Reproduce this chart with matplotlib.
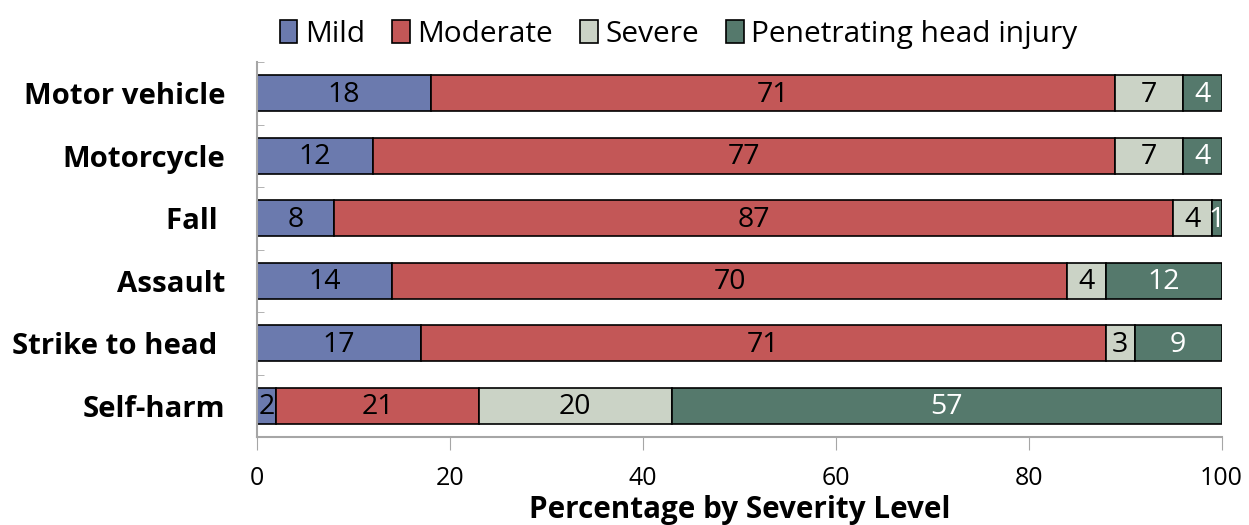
import numpy as np
import matplotlib.pyplot as plt

plt.rcParams['font.family'] = ['Open Sans', 'DejaVu Sans']

categories = ['Motor vehicle', 'Motorcycle', 'Fall ', 'Assault', 'Strike to head ', 'Self-harm']
mild = [18, 12, 8, 14, 17, 2]
moderate = [71, 77, 87, 70, 71, 21]
severe = [7, 7, 4, 4, 3, 20]
penetrating = [4, 4, 1, 12, 9, 57]

series = [('Mild', mild, '#6b7aae', 'black'),
          ('Moderate', moderate, '#c35757', 'black'),
          ('Severe', severe, '#cbd3c6', 'black'),
          ('Penetrating head injury', penetrating, '#55796c', 'white')]

fig = plt.figure(figsize=(12.49, 5.25), dpi=100)
ax = fig.add_axes([0.2058, 0.1676, 0.7722, 0.7143])

y = np.arange(len(categories))
left = np.zeros(len(categories))
for name, vals, color, tcolor in series:
    vals = np.array(vals)
    bars = ax.barh(y, vals, left=left, height=0.57, color=color,
                   edgecolor='black', linewidth=1.2, label=name)
    for b, v in zip(bars, vals):
        ax.text(b.get_x() + b.get_width() / 2, b.get_y() + b.get_height() / 2 + 0.02,
                str(v), ha='center', va='center', fontsize=20.5, color=tcolor)
    left += vals

ax.set_xlim(0, 100)
ax.set_ylim(len(categories) - 0.5, -0.5)
ax.set_yticks(y)
ax.set_yticklabels(categories, fontsize=21.2, fontweight='bold')
ax.set_yticks(np.arange(-0.5, len(categories)), minor=True)
ax.tick_params(axis='y', which='major', length=0, pad=23)
ax.tick_params(axis='y', which='minor', direction='in', length=5, color='#a6a6a6')
ax.set_xticks([0, 20, 40, 60, 80, 100])
ax.tick_params(axis='x', direction='out', length=9, color='#a6a6a6', labelsize=18, pad=12)
ax.set_xlabel('Percentage by Severity Level', fontsize=21.3, fontweight='bold', labelpad=3)

for s in ['top', 'right']:
    ax.spines[s].set_visible(False)
for s in ['left', 'bottom']:
    ax.spines[s].set_color('#a6a6a6')
    ax.spines[s].set_linewidth(1.5)

ax.legend(loc='lower center', bbox_to_anchor=(0.437, 1.0), ncol=4, frameon=False,
          fontsize=21.5, handlelength=0.6, handleheight=0.8, handletextpad=0.25,
          columnspacing=0.9, borderaxespad=0.05)

fig.savefig('out.png', dpi=100)
